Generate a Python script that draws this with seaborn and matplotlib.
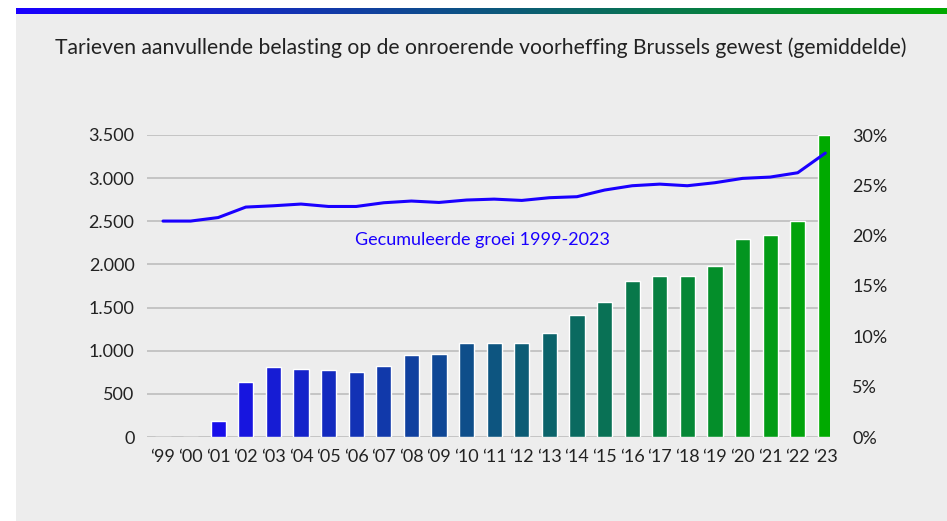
import numpy as np
import pandas as pd
import matplotlib
matplotlib.use("Agg")
import matplotlib.pyplot as plt
import matplotlib.colors as mcolors
from matplotlib.patches import Rectangle
import seaborn as sns

years = ["‘99", "‘00", "‘01", "‘02", "‘03", "‘04", "‘05", "‘06", "‘07", "‘08", "‘09", "‘10",
         "‘11", "‘12", "‘13", "‘14", "‘15", "‘16", "‘17", "‘18", "‘19", "‘20", "‘21", "‘22", "‘23"]
tarief = [0, 0, 180, 635, 810, 790, 775, 755, 825, 955, 962, 1095,
          1095, 1095, 1205, 1415, 1560, 1810, 1865, 1865, 1980, 2290, 2340, 2500, 3500]
groei = [21.45, 21.45, 21.8, 22.84, 22.97, 23.14, 22.9, 22.9, 23.27, 23.44, 23.3, 23.54,
         23.63, 23.5, 23.77, 23.87, 24.53, 24.96, 25.12, 24.96, 25.26, 25.69, 25.82, 26.25, 28.2]
left_ticks = [0, 500, 1000, 1500, 2000, 2500, 3000, 3500]
left_labels = ["0", "500", "1.000", "1.500", "2.000", "2.500", "3.000", "3.500"]
right_ticks = [0, 5, 10, 15, 20, 25, 30]
right_labels = ["0%", "5%", "10%", "15%", "20%", "25%", "30%"]
title = "Tarieven aanvullende belasting op de onroerende voorheffing Brussels gewest (gemiddelde)"
line_label = "Gecumuleerde groei 1999-2023"

sns.set_style("white")
plt.rcParams['font.family'] = ['Lato', 'DejaVu Sans']

c_start = np.array(mcolors.to_rgb("#1a00ff"))
c_end = np.array(mcolors.to_rgb("#00aa00"))
n = len(years)
colors = [mcolors.to_hex(np.clip(c_start + (c_end - c_start) * i / (n - 1), 0, 1)) for i in range(n)]

df = pd.DataFrame({"jaar": years, "tarief": tarief, "groei": groei, "pos": np.arange(n)})

fig = plt.figure(figsize=(9.47, 5.21), dpi=100, facecolor="white")
# grey panel
fig.patches.append(Rectangle((16/947, 0), 1 - 16/947, 1 - 14/521, transform=fig.transFigure,
                             facecolor="#ededed", edgecolor="none", zorder=-10))
# gradient bar at top
gax = fig.add_axes([16/947, 1 - 14/521, 1 - 16/947, 6/521])
grad = np.linspace(0, 1, 256)
gimg = np.clip(np.array([c_start + (c_end - c_start) * g for g in grad]), 0, 1)[None, :, :]
gax.imshow(gimg, aspect="auto", extent=[0, 1, 0, 1])
gax.axis("off")

ax = fig.add_axes([147/947, 1 - 437/521, (830 - 147)/947, (437 - 135)/521])
ax.set_facecolor("none")
sns.barplot(data=df, x="jaar", y="tarief", hue="jaar", palette=colors, ax=ax,
            width=0.55, legend=False, saturation=1, zorder=3)
ax.set_xlim(-0.58, 24.17)
ax.set_ylim(0, 3500)
ax.set_yticks(left_ticks)
ax.set_yticklabels(left_labels)
ax.yaxis.grid(True, color="#c4c4c4", linewidth=1.4, zorder=0)
ax.set_axisbelow(True)
for s in ax.spines.values():
    s.set_visible(False)
ax.tick_params(axis="both", length=0, labelsize=13, colors="#222222")
ax.tick_params(axis="y", pad=9)
ax.tick_params(axis="x", pad=9)
ax.set_xlabel("")
ax.set_ylabel("")

ax2 = ax.twinx()
sns.lineplot(data=df, x="pos", y="groei", ax=ax2, color="#1a00ff", linewidth=2.2)
ax2.set_xlim(-0.58, 24.17)
ax2.set_ylim(0, 30)
ax2.set_yticks(right_ticks)
ax2.set_yticklabels(right_labels)
for s in ax2.spines.values():
    s.set_visible(False)
ax2.tick_params(axis="y", length=0, labelsize=13, colors="#222222", pad=16)
ax2.set_ylabel("")
ax2.set_xlabel("")

ax.text(11.56, 2283, line_label, color="#1a00ff", fontsize=13, ha="center", va="center", zorder=5)

fig.text(55/947, 1 - 48/521, title, fontsize=15.2, color="#222222", ha="left", va="center")

fig.savefig("out.png", dpi=100, facecolor="white")
